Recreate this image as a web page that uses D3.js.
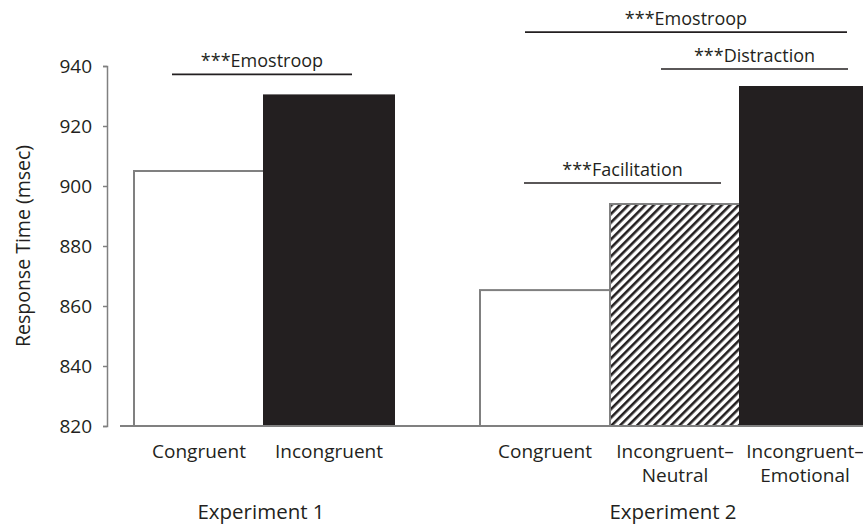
<!DOCTYPE html>
<html>
<head>
<meta charset="utf-8">
<script src="https://cdn.jsdelivr.net/npm/d3@7"></script>
<style>
  body { margin: 0; background: #fff; }
  text { font-family: "Open Sans", sans-serif; fill: #231f20; }
</style>
</head>
<body>
<div id="chart"></div>
<script>
const WIDTH = 863
const HEIGHT = 525

// data
const experiments = ["Experiment 1", "Experiment 2"]
const exp1Categories = ["Congruent", "Incongruent"]
const exp1Values = [905, 930.2]
const exp2Categories = ["Congruent", "Incongruent–\nNeutral", "Incongruent–\nEmotional"]
const exp2Values = [865.3, 894, 933]
const yTicks = [820, 840, 860, 880, 900, 920, 940]
const annotationLabels = ["***Emostroop", "***Emostroop", "***Distraction", "***Facilitation"]
const annotationLevels = [937.2, 951.3, 939, 901]   // msec level of each bracket line

// layout
const PLOT = { LEFT: 107, TOP: 66, BOTTOM: 426 }
const GROUP_RANGES = [[134, 394], [480, 870]]
const ANNOTATION_SPANS = [[172, 352], [525, 847], [661, 848], [524, 721]]
const fills = ["#fff", "#231f20", "url(#hatch)"]

const svg = d3.select("#chart")
              .append("svg")
              .attr("width", WIDTH)
              .attr("height", HEIGHT)

const pattern = svg.append("defs")
                   .append("pattern")
                   .attr("id", "hatch")
                   .attr("patternUnits", "userSpaceOnUse")
                   .attr("width", 6)
                   .attr("height", 6)
                   .attr("patternTransform", "rotate(45)")
pattern.append("rect").attr("width", 6).attr("height", 6).attr("fill", "#fff")
pattern.append("rect").attr("width", 2.6).attr("height", 6).attr("fill", "#231f20")

const y = d3.scaleLinear()
            .domain([820, 940])
            .range([PLOT.BOTTOM, PLOT.TOP])

// y axis
const yAxis = svg.append("g")
                 .attr("transform", `translate(${PLOT.LEFT}, 0)`)
                 .call(d3.axisLeft(y).tickValues(yTicks).tickSize(4).tickPadding(11).tickFormat(d3.format("d")))
yAxis.selectAll("path, line").attr("stroke", "#808080").attr("stroke-width", 1.5)
yAxis.selectAll("text").attr("font-size", 19).style("font-family", "Open Sans")

svg.append("text")
   .attr("transform", `translate(30, 246) rotate(-90)`)
   .attr("text-anchor", "middle")
   .attr("font-size", 19.5)
   .text("Response Time (msec)")

const groups = [
  { name: experiments[0], cats: exp1Categories, vals: exp1Values, colors: [fills[0], fills[1]] },
  { name: experiments[1], cats: exp2Categories, vals: exp2Values, colors: [fills[0], fills[2], fills[1]] }
]

groups.forEach((g, gi) => {
  const x = d3.scaleBand()
              .domain(g.cats)
              .range(GROUP_RANGES[gi])
              .padding(0)

  const rows = g.cats.map((c, i) => ({ cat: c, val: g.vals[i], fill: g.colors[i] }))

  svg.selectAll(null)
     .data(rows)
     .enter()
     .append("rect")
     .attr("x", d => x(d.cat))
     .attr("y", d => y(d.val))
     .attr("width", x.bandwidth())
     .attr("height", d => PLOT.BOTTOM - y(d.val))
     .attr("fill", d => d.fill)
     .attr("stroke", d => d.fill === "#231f20" ? "#231f20" : "#808080")
     .attr("stroke-width", 2)

  const labels = svg.selectAll(null)
                    .data(rows)
                    .enter()
                    .append("text")
                    .attr("text-anchor", "middle")
                    .attr("font-size", 19)
                    .attr("x", d => x(d.cat) + x.bandwidth() / 2)
                    .attr("y", 458)
  labels.selectAll("tspan")
        .data(d => d.cat.split("\n"))
        .enter()
        .append("tspan")
        .attr("x", function () { return d3.select(this.parentNode).attr("x") })
        .attr("dy", (d, i) => i === 0 ? 0 : 24)
        .text(d => d)

  const r = GROUP_RANGES[gi]
  svg.append("text")
     .attr("x", gi === 0 ? 261 : 673)
     .attr("y", 519)
     .attr("text-anchor", "middle")
     .attr("font-size", 20.5)
     .text(g.name)
})

// baseline
svg.append("line")
   .attr("x1", 120).attr("x2", WIDTH)
   .attr("y1", PLOT.BOTTOM).attr("y2", PLOT.BOTTOM)
   .attr("stroke", "#808080")
   .attr("stroke-width", 2)

// significance brackets
annotationLabels.forEach((lab, i) => {
  const [x1, x2] = ANNOTATION_SPANS[i]
  const ly = y(annotationLevels[i])
  svg.append("line")
     .attr("x1", x1).attr("x2", x2)
     .attr("y1", ly).attr("y2", ly)
     .attr("stroke", "#231f20")
     .attr("stroke-width", 1.6)
  svg.append("text")
     .attr("x", (x1 + x2) / 2)
     .attr("y", ly - 7)
     .attr("text-anchor", "middle")
     .attr("font-size", 18)
     .text(lab)
})
</script>
</body>
</html>
